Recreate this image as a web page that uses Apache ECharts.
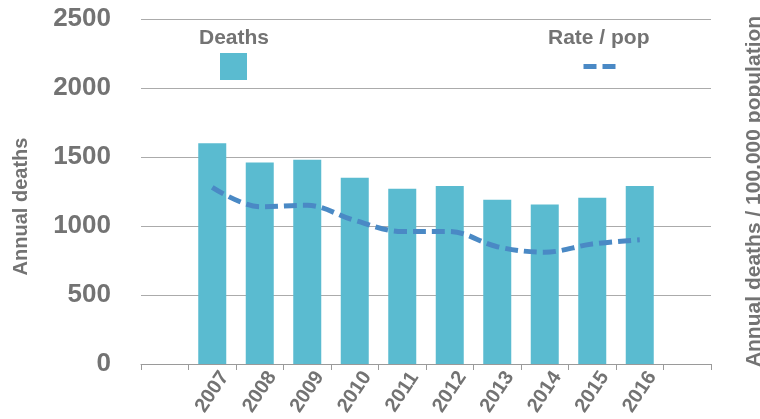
<!DOCTYPE html>
<html>
<head>
<meta charset="utf-8">
<script src="https://cdn.jsdelivr.net/npm/echarts@6/dist/echarts.min.js"></script>
<style>
html,body{margin:0;padding:0;background:#fff;}
#chart{width:760px;height:419px;}
</style>
</head>
<body>
<div id="chart"></div>
<script>
// Categories (with empty padding slots at both ends, as in the reference)
var categories = ['', '2007', '2008', '2009', '2010', '2011', '2012', '2013', '2014', '2015', '2016', ''];
// Annual deaths (left axis)
var deaths = [null, 1600, 1460, 1480, 1350, 1270, 1290, 1190, 1155, 1205, 1290, null];
// Rate per 100,000 population (right axis, unlabeled)
var ratePerPop = [null, 12.8, 11.4, 11.5, 10.4, 9.6, 9.6, 8.5, 8.1, 8.7, 9.0, null];
var leftTicks = [0, 500, 1000, 1500, 2000, 2500];

var GRAY = '#737373';
var FONT = '"Liberation Sans", Arial, Helvetica, sans-serif';

var chart = echarts.init(document.getElementById('chart'), null, {renderer: 'canvas'});
chart.setOption({
  animation: false,
  backgroundColor: '#ffffff',
  grid: {left: 141, right: 49, top: 19, bottom: 55, containLabel: false, outerBoundsMode: 'none'},
  title: [
    {text: 'Deaths', left: 194, top: 23, textStyle: {fontFamily: FONT, fontSize: 21, fontWeight: 'bold', color: GRAY}},
    {text: 'Rate / pop', left: 543, top: 23, textStyle: {fontFamily: FONT, fontSize: 21, fontWeight: 'bold', color: GRAY}}
  ],
  legend: [
    {data: ['Deaths'], icon: 'rect', left: 220, top: 53, itemWidth: 27, itemHeight: 27,
     formatter: function(){return '';}, selectedMode: false, itemGap: 0, padding: 0},
    {data: ['Rate / pop'], icon: 'path://M0,0H13V5H0Z M19,0H32V5H19Z', left: 583, top: 64, itemWidth: 33, itemHeight: 5,
     formatter: function(){return '';}, selectedMode: false, itemGap: 0, padding: 0}
  ],
  xAxis: {
    type: 'category',
    data: categories,
    boundaryGap: true,
    axisLine: {show: true, lineStyle: {color: '#9a9a9a', width: 1}},
    axisTick: {show: true, length: 6, interval: 0, lineStyle: {color: '#9a9a9a'}},
    axisLabel: {interval: 0, rotate: 56, margin: 28, align: 'center', verticalAlign: 'middle',
      color: GRAY, fontFamily: FONT, fontSize: 20, fontWeight: 'bold'}
  },
  yAxis: [
    {
      type: 'value', min: leftTicks[0], max: leftTicks[leftTicks.length - 1], interval: 500,
      name: 'Annual deaths', nameLocation: 'middle', nameRotate: 90, nameGap: 110,
      nameTextStyle: {color: GRAY, fontFamily: FONT, fontSize: 20, fontWeight: 'bold', padding: [0, 30, 0, 0]},
      axisLine: {show: false}, axisTick: {show: false},
      axisLabel: {margin: 30, color: GRAY, fontFamily: FONT, fontSize: 26, fontWeight: 'bold',
        formatter: function (v) { return String(v); }},
      splitLine: {show: true, lineStyle: {color: '#ababab', width: 1}}
    },
    {
      type: 'value', min: 0, max: 25, interval: 5, position: 'right',
      name: 'Annual deaths / 100,000 population', nameLocation: 'middle', nameRotate: 90, nameGap: 33,
      nameTextStyle: {color: GRAY, fontFamily: FONT, fontSize: 21, fontWeight: 'bold'},
      axisLine: {show: false}, axisTick: {show: false}, axisLabel: {show: false},
      splitLine: {show: false}
    }
  ],
  series: [
    {
      name: 'Deaths', type: 'bar', data: deaths, barWidth: 28, yAxisIndex: 0,
      itemStyle: {color: '#5abbd0'}
    },
    {
      name: 'Rate / pop', type: 'line', data: ratePerPop, yAxisIndex: 1,
      smooth: 0.35, symbol: 'none', connectNulls: false,
      lineStyle: {color: '#4a89c5', width: 5, type: [13, 6]},
      itemStyle: {color: '#4a89c5'}
    }
  ]
});
</script>
</body>
</html>
